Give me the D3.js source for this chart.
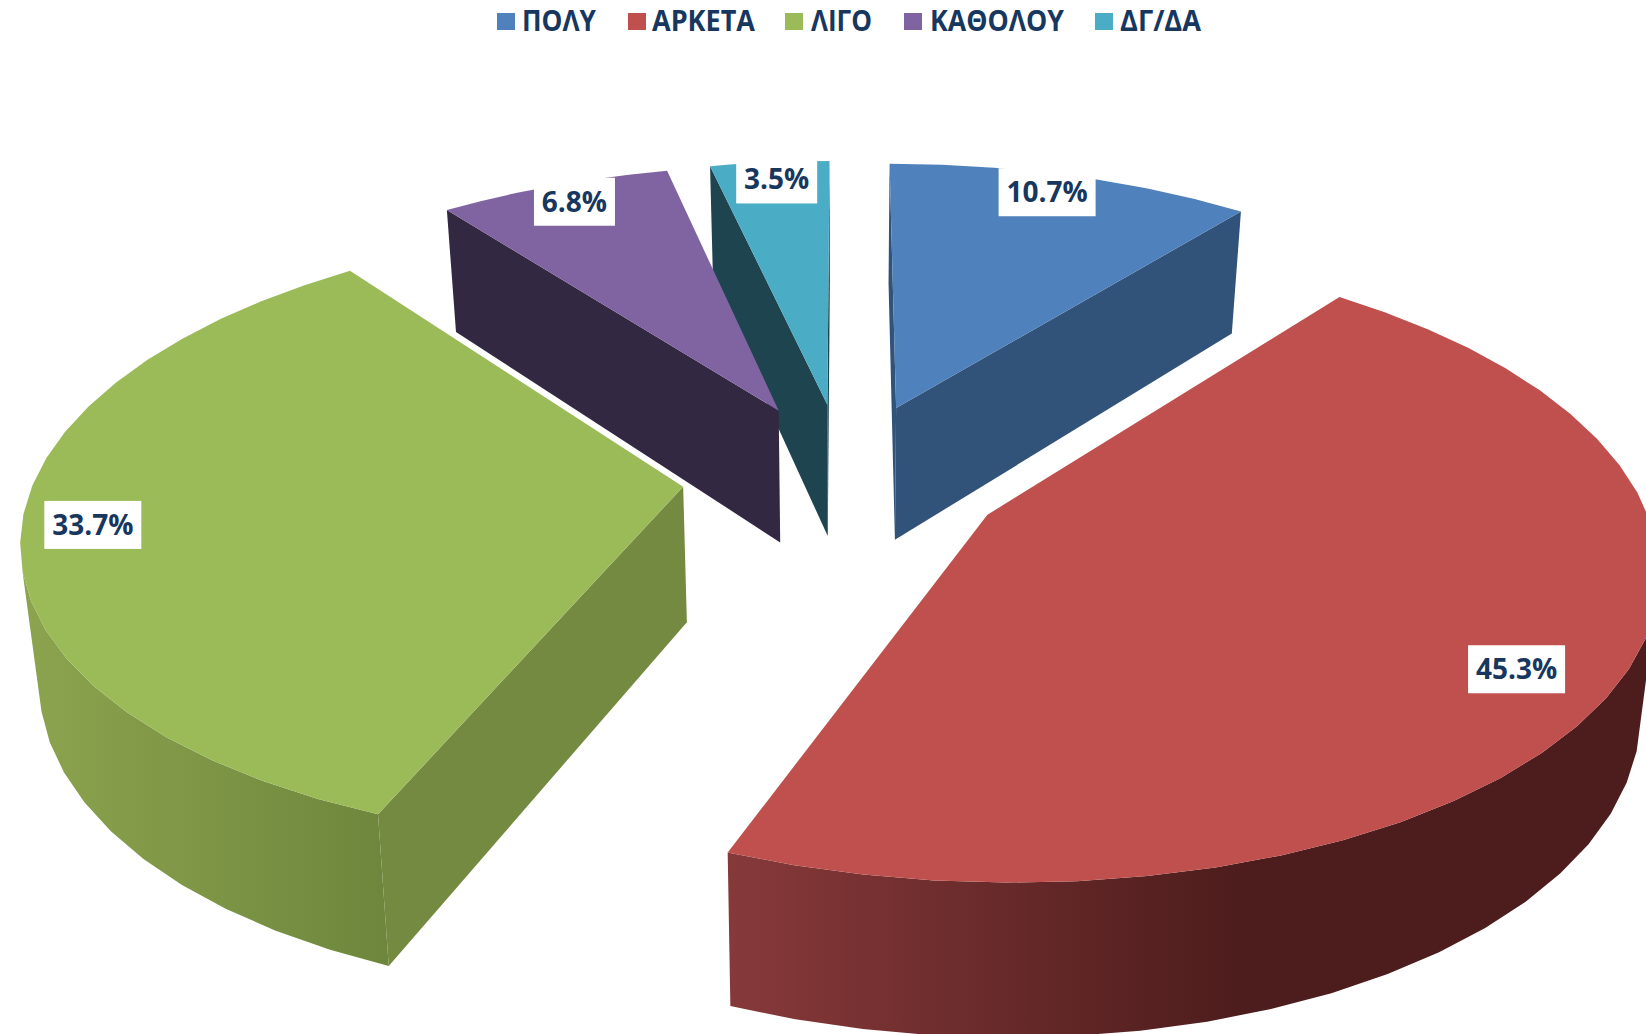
<!DOCTYPE html>
<html>
<head>
<meta charset="utf-8">
<script src="https://cdn.jsdelivr.net/npm/d3@7"></script>
<style>
body { margin: 0; background: #fff; overflow: hidden; }
text { font-family: "Open Sans", sans-serif; font-weight: 700; fill: #17375e; }
</style>
</head>
<body>
<div id="chart"></div>
<script>
// chart values
var categories = ["ΠΟΛΥ", "ΑΡΚΕΤΑ", "ΛΙΓΟ", "ΚΑΘΟΛΟΥ", "ΔΓ/ΔΑ"];
var values = [10.7, 45.3, 33.7, 6.8, 3.5];

// colours
var topColors = ["#4f81bd", "#c0504d", "#9bbb59", "#8064a2", "#4bacc6"];
var faceColors = ["#325379", "#4d1c1c", "#738a40", "#332842", "#1d444f"];
var wallStart = ["#325379", "#87393a", "#8ca44e", "#332842", "#1d444f"];
var wallEnd = ["#325379", "#4d1c1c", "#6e863c", "#332842", "#1d444f"];
var wallRange = [[0, 1], [728, 1245], [25, 390], [0, 1], [0, 1]];

// legend layout
var legendSwatchX = [497, 628, 785, 904, 1095];
var legendTextX = [522, 652, 811, 930, 1120];
var legendTextW = [74, 103, 61, 134, 81];

var width = 1646, height = 1034;

// perspective of the pie plane, X right, Y toward viewer, radius 1
var cam = {cx: 844.5, cy: 476.5, a: 648, d: 300, c: 0.15, h0: 135, h1: -5.5, shrink: 0.023};
var explode = 0.25;
var labelRx = [0.855, 0.843, 0.893, 0.9, 0.87], labelRy = 0.92;

function project(X, Y, z) {
    var den = 1 - cam.c * Y;
    return [
	cam.cx + cam.a * X / den * (1 - cam.shrink * z),
	cam.cy + cam.d * Y / den + z * (cam.h0 + cam.h1 * Y) / den
    ];
}

var svg = d3.select("#chart").append("svg")
    .attr("width", width)
    .attr("height", height);

var defs = svg.append("defs");
var line = d3.line();

var pie = d3.pie().sort(null);
var arcs = pie(values);

// plane point of slice d at polar (angle, r)
function planePoint(d, angle, rx, ry) {
    var mid = (d.startAngle + d.endAngle) / 2;
    return [
	Math.sin(mid) * explode + Math.sin(angle) * rx,
	-Math.cos(mid) * explode - Math.cos(angle) * ry
    ];
}

function shoelace(p) {
    var s = 0;
    p.forEach(function(a, i) {
	var b = p[(i + 1) % p.length];
	s += a[0] * b[1] - b[0] * a[1];
    });
    return s;
}

function quad(a, b) {
    return [project(a[0], a[1], 0), project(b[0], b[1], 0),
	    project(b[0], b[1], 1), project(a[0], a[1], 1)];
}

// back slices first
var order = [4, 3, 0, 2, 1];

order.forEach(function(i) {
    var d = arcs[i];
    var n = Math.max(6, Math.round((d.endAngle - d.startAngle) * 11));
    var rim = d3.range(n + 1).map(function(k) {
	return planePoint(d, d.startAngle + (d.endAngle - d.startAngle) * k / n, 1, 1);
    });
    var apex = planePoint(d, 0, 0, 0);
    var g = svg.append("g");

    defs.append("linearGradient")
	.attr("id", "wall" + i)
	.attr("gradientUnits", "userSpaceOnUse")
	.attr("x1", wallRange[i][0]).attr("x2", wallRange[i][1])
	.attr("y1", 0).attr("y2", 0)
	.selectAll("stop")
	.data([wallStart[i], wallEnd[i]])
	.enter().append("stop")
	.attr("offset", function(c, k) { return k; })
	.attr("stop-color", function(c) { return c; });

    // outer wall, only the segments facing the viewer
    var front = [];
    d3.range(n).forEach(function(k) {
	if (shoelace(quad(rim[k], rim[k + 1])) < 0) {
	    if (!front.length) front.push(rim[k]);
	    front.push(rim[k + 1]);
	}
    });
    if (front.length) {
	var upper = front.map(function(p) { return project(p[0], p[1], 0); });
	var lower = front.map(function(p) { return project(p[0], p[1], 1); }).reverse();
	g.append("path")
	    .attr("d", line(upper.concat(lower)) + "Z")
	    .attr("fill", "url(#wall" + i + ")");
    }

    // the two cut faces
    [[apex, rim[0]], [rim[n], apex]].forEach(function(edge) {
	var q = quad(edge[0], edge[1]);
	if (shoelace(q) < 0) {
	    g.append("path")
		.attr("d", line(q) + "Z")
		.attr("fill", faceColors[i]);
	}
    });

    // top
    var top = [apex].concat(rim).map(function(p) { return project(p[0], p[1], 0); });
    g.append("path")
	.attr("d", line(top) + "Z")
	.attr("fill", topColors[i]);
});

// value labels on the slice middle
var labels = svg.append("g").selectAll("g").data(arcs).enter().append("g")
    .attr("transform", function(d) {
	var mid = (d.startAngle + d.endAngle) / 2;
	var p = planePoint(d, mid, labelRx[d.index], labelRy);
	return "translate(" + project(p[0], p[1], 0) + ")";
    });

labels.append("rect")
    .attr("x", function(d) { return d.value >= 10 ? -48.5 : -40.5; })
    .attr("y", -24)
    .attr("width", function(d) { return d.value >= 10 ? 97 : 81; })
    .attr("height", 48)
    .attr("fill", "#fff");

labels.append("text")
    .attr("text-anchor", "middle")
    .attr("y", 10)
    .attr("font-size", 28)
    .text(function(d) { return d.value.toFixed(1) + "%"; });

// legend
var legend = svg.append("g").selectAll("g").data(categories).enter().append("g");

legend.append("rect")
    .attr("x", function(d, i) { return legendSwatchX[i]; })
    .attr("y", 13)
    .attr("width", 18)
    .attr("height", 17)
    .attr("fill", function(d, i) { return topColors[i]; });

legend.append("text")
    .attr("x", function(d, i) { return legendTextX[i]; })
    .attr("y", 31)
    .attr("font-size", 28)
    .attr("textLength", function(d, i) { return legendTextW[i]; })
    .attr("lengthAdjust", "spacingAndGlyphs")
    .text(function(d) { return d; });
</script>
</body>
</html>
